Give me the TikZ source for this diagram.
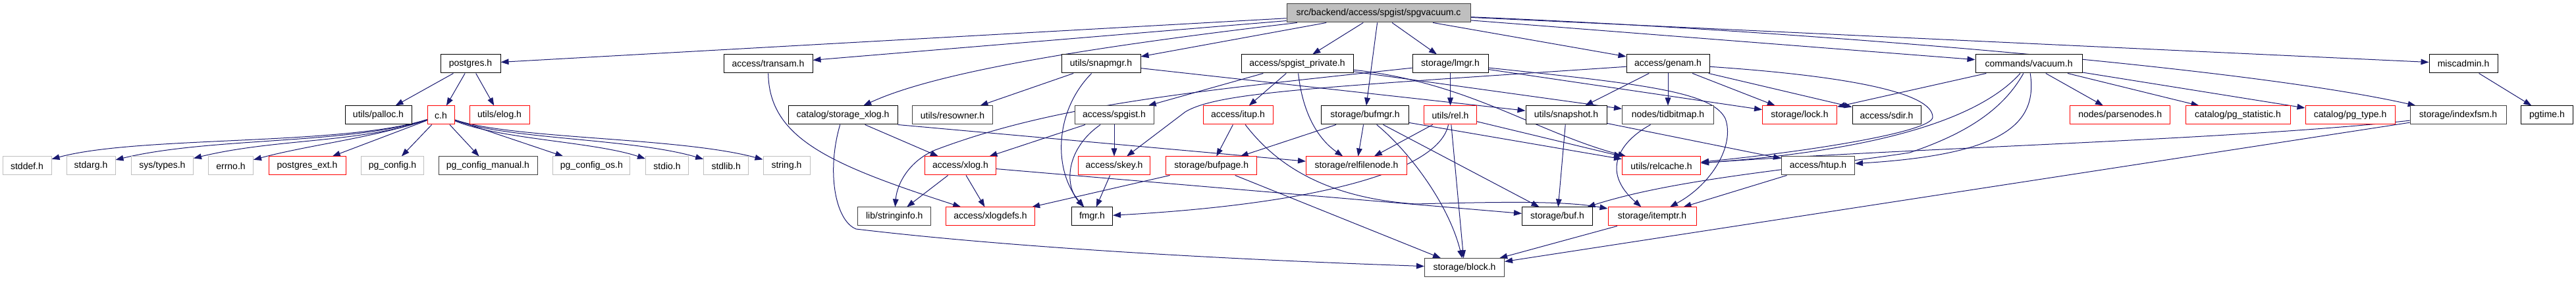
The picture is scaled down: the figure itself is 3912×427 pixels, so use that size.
\documentclass[tikz,border=0pt]{standalone}
\usepackage{fontspec}
\setmainfont{Liberation Sans}
\usetikzlibrary{arrows.meta,calc,backgrounds}
\definecolor{edgec}{HTML}{191970}
\definecolor{dkgray}{HTML}{404040}
\definecolor{ltgray}{HTML}{BFBFBF}
\definecolor{rootfill}{HTML}{BFBFBF}
\definecolor{redb}{HTML}{FF0000}
\tikzset{
  base/.style={draw, rectangle, inner sep=0pt, minimum height=21pt, fill=white,
    font=\fontsize{10.5}{12}\selectfont, line width=0.75pt},
  wd/.style={minimum width=#1*0.75pt},
  bx/.style={base, draw=black},
  dg/.style={base, draw=dkgray},
  rd/.style={base, draw=redb},
  lg/.style={base, draw=ltgray},
  rootbox/.style={base, draw=dkgray, fill=rootfill},
  e/.style={draw=edgec, line width=0.75pt, -{Triangle[length=9pt,width=6.5pt]}}
}
\begin{document}
\begin{tikzpicture}[x=0.75pt,y=-0.75pt]
\useasboundingbox (0,0) rectangle (3912,427);
% row 1
\node[rootbox, wd=279] (root) at (2093.5,20) {src/backend/access/spgist/spgvacuum.c};
% row 2
\node[bx, wd=91]  (postgres)  at (714.5,97)  {postgres.h};
\node[bx, wd=135] (transam)   at (1166.5,97) {access/transam.h};
\node[bx, wd=120] (snapmgr)   at (1672,97)   {utils/snapmgr.h};
\node[bx, wd=170] (spgpriv)   at (1970,97)   {access/spgist\_private.h};
\node[bx, wd=115] (lmgr)      at (2202.5,97) {storage/lmgr.h};
\node[bx, wd=126] (genam)     at (2533,97)   {access/genam.h};
\node[bx, wd=162] (vacuum)    at (3081,97)   {commands/vacuum.h};
\node[bx, wd=104] (miscadmin) at (3741,97)   {miscadmin.h};
% row 3
\node[bx, wd=101] (palloc)    at (574.5,175)  {utils/palloc.h};
\node[rd, wd=41]  (ch)        at (669.5,175)  {c.h};
\node[rd, wd=91]  (elog)      at (758.5,175)  {utils/elog.h};
\node[bx, wd=166] (sxlog)     at (1280,175)   {catalog/storage\_xlog.h};
\node[dg, wd=122] (resowner)  at (1446.5,175) {utils/resowner.h};
\node[dg, wd=120] (spgist)    at (1692,175)   {access/spgist.h};
\node[rd, wd=106] (itup)      at (1880,175)   {access/itup.h};
\node[bx, wd=133] (bufmgr)    at (2073,175)   {storage/bufmgr.h};
\node[rd, wd=80]  (rel)       at (2202.5,175) {utils/rel.h};
\node[bx, wd=123] (snapshot)  at (2378.5,175) {utils/snapshot.h};
\node[dg, wd=139] (tidbitmap) at (2533,175)   {nodes/tidbitmap.h};
\node[rd, wd=113] (lock)      at (2733,175)   {storage/lock.h};
\node[bx, wd=104] (sdir)      at (2865,175)   {access/sdir.h};
\node[rd, wd=152] (parsenodes) at (3219.7,175) {nodes/parsenodes.h};
\node[rd, wd=159] (pgstat)    at (3398.5,175) {catalog/pg\_statistic.h};
\node[rd, wd=136] (pgtype)    at (3569,175)   {catalog/pg\_type.h};
\node[dg, wd=146] (indexfsm)  at (3733,175)   {storage/indexfsm.h};
\node[bx, wd=79]  (pgtime)    at (3868,175)   {pgtime.h};
% row 4
\node[lg, wd=74]  (stddef)    at (41,252)     {stddef.h};
\node[lg, wd=74]  (stdarg)    at (138,252)    {stdarg.h};
\node[lg, wd=94]  (systypes)  at (246.5,252)  {sys/types.h};
\node[lg, wd=68]  (errno)     at (350.5,252)  {errno.h};
\node[rd, wd=117] (pgext)     at (466.5,252)  {postgres\_ext.h};
\node[lg, wd=95]  (pgconfig)  at (596,252)    {pg\_config.h};
\node[dg, wd=150] (pgmanual)  at (741,252)    {pg\_config\_manual.h};
\node[lg, wd=117] (pgos)      at (898.4,252)  {pg\_config\_os.h};
\node[lg, wd=65]  (stdio)     at (1013,252)   {stdio.h};
\node[lg, wd=68]  (stdlib)    at (1102.7,252) {stdlib.h};
\node[lg, wd=71]  (string)    at (1194.5,252) {string.h};
\node[rd, wd=108] (xlog)      at (1458.5,252) {access/xlog.h};
\node[rd, wd=109] (skey)      at (1692,252)   {access/skey.h};
\node[rd, wd=138] (bufpage)   at (1839.7,252) {storage/bufpage.h};
\node[rd, wd=153] (relfilenode) at (2060,252) {storage/relfilenode.h};
\node[rd, wd=119] (relcache)  at (2523,252)   {utils/relcache.h};
\node[dg, wd=111] (htup)      at (2761,252)   {access/htup.h};
% row 5
\node[dg, wd=111] (stringinfo) at (1358.3,329) {lib/stringinfo.h};
\node[rd, wd=135] (xlogdefs)  at (1504,329)   {access/xlogdefs.h};
\node[bx, wd=62]  (fmgr)      at (1658.5,329) {fmgr.h};
\node[bx, wd=107] (buf)       at (2365,329)   {storage/buf.h};
\node[rd, wd=134] (itemptr)   at (2509,329)   {storage/itemptr.h};
% row 6
\node[dg, wd=121] (block)     at (2224,406.7) {storage/block.h};

\begin{pgfonlayer}{background}
% root
\draw[e] (root) -- (postgres);
\draw[e] (root) -- (transam);
\draw[e] (root) .. controls (1650,72) and (1420,110) .. (sxlog);
\draw[e] (root) -- (snapmgr);
\draw[e] (root) -- (spgpriv);
\draw[e] (root) -- (bufmgr);
\draw[e] (root) -- (lmgr);
\draw[e] (root) -- (genam);
\draw[e] (root) -- (vacuum);
\draw[e] (root) -- (miscadmin);
\draw[e] (root) .. controls (2700,45) and (3400,100) .. (indexfsm);
% postgres.h
\draw[e] (postgres) -- (palloc);
\draw[e] (postgres) -- (ch);
\draw[e] (postgres) -- (elog);
% c.h
\draw[e] (ch) .. controls (520,222) and (210,206) .. (stddef);
\draw[e] (ch) .. controls (530,220) and (320,208) .. (stdarg);
\draw[e] (ch) .. controls (545,218) and (420,210) .. (systypes);
\draw[e] (ch) .. controls (565,210) and (470,220) .. (errno);
\draw[e] (ch) -- (pgext);
\draw[e] (ch) -- (pgconfig);
\draw[e] (ch) -- (pgmanual);
\draw[e] (ch) -- (pgos);
\draw[e] (ch) .. controls (760,212) and (900,215) .. (stdio);
\draw[e] (ch) .. controls (770,212) and (960,210) .. (stdlib);
\draw[e] (ch) .. controls (780,212) and (1030,208) .. (string);
% transam
\draw[e] (transam) .. controls (1168,210) and (1260,250) .. (xlogdefs);
% storage_xlog
\draw[e] (sxlog) -- (xlog);
\draw[e] (sxlog.south east) -- (relfilenode);
\draw[e] (sxlog) .. controls (1255,260) and (1268,335) .. (1300,348)
   .. controls (1500,372) and (1800,392) .. (block);
% snapmgr
\draw[e] (snapmgr) -- (resowner);
\draw[e] (snapmgr) .. controls (1600,170) and (1600,260) .. (fmgr);
\draw[e] (snapmgr) -- (snapshot);
% spgist_private
\draw[e] (spgpriv) -- (spgist);
\draw[e] (spgpriv) -- (itup);
\draw[e] (spgpriv) .. controls (1978,170) and (2000,210) .. (relfilenode);
\draw[e] (spgpriv) -- (tidbitmap);
\draw[e] (spgpriv) .. controls (2230,125) and (2330,200) .. (relcache);
% lmgr
\draw[e] (lmgr) -- (rel);
\draw[e] (lmgr) .. controls (1800,140) and (1600,160) .. (1420,228)
   .. controls (1380,245) and (1362,280) .. (stringinfo);
\draw[e] (lmgr) .. controls (2500,128) and (2600,140) .. (2620,180)
   .. controls (2635,220) and (2600,280) .. (itemptr);
\draw[e] (lmgr) -- (lock);
% genam
\draw[e] (genam) -- (snapshot);
\draw[e] (genam) -- (tidbitmap);
\draw[e] (genam) .. controls (2000,133) and (1850,140) .. (1800,170) -- (skey);
\draw[e] (genam) -- (lock);
\draw[e] (genam) -- (sdir);
\draw[e] (genam) .. controls (2800,115) and (2935,140) .. (2935,178)
   .. controls (2935,200) and (2750,230) .. (relcache);
% vacuum
\draw[e] (vacuum) -- (lock);
\draw[e] (vacuum) -- (parsenodes);
\draw[e] (vacuum) -- (pgstat);
\draw[e] (vacuum) -- (pgtype);
\draw[e] (vacuum) .. controls (3095,190) and (3040,235) .. (htup);
\draw[e] (vacuum) .. controls (3020,165) and (2900,225) .. (relcache);
\draw[e] (vacuum) .. controls (3040,170) and (2980,205) .. (2900,232)
   .. controls (2750,255) and (2550,270) .. (buf);
% indexfsm
\draw[e] (indexfsm) .. controls (3400,212) and (2900,225) .. (relcache);
\draw[e] (indexfsm) -- (block);
% miscadmin
\draw[e] (miscadmin) -- (pgtime);
% snapshot
\draw[e] (snapshot) -- (buf);
\draw[e] (snapshot) -- (htup);
% tidbitmap
\draw[e] (tidbitmap) .. controls (2460,215) and (2430,260) .. (itemptr);
% bufmgr
\draw[e] (bufmgr) -- (bufpage);
\draw[e] (bufmgr) -- (relfilenode);
\draw[e] (bufmgr) .. controls (2140,230) and (2200,310) .. (block);
\draw[e] (bufmgr) -- (buf);
\draw[e] (bufmgr) -- (relcache);
% rel
\draw[e] (rel) -- (relfilenode);
\draw[e] (rel) .. controls (2185,260) and (2000,310) .. (fmgr);
\draw[e] (rel) -- (block);
\draw[e] (rel) -- (relcache);
% spgist
\draw[e] (spgist) -- (xlog);
\draw[e] (spgist) -- (skey);
\draw[e] (spgist) .. controls (1620,225) and (1615,280) .. (fmgr);
% itup
\draw[e] (itup) -- (bufpage);
\draw[e] (itup) .. controls (1930,240) and (2000,300) .. (2150,310)
   .. controls (2300,306) and (2380,306) .. (itemptr);
% xlog
\draw[e] (xlog) -- (stringinfo);
\draw[e] (xlog) -- (xlogdefs);
\draw[e] (xlog) -- (buf);
% others
\draw[e] (skey) -- (fmgr);
\draw[e] (bufpage) -- (xlogdefs);
\draw[e] (bufpage) -- (block);
\draw[e] (itemptr) -- (block);
\draw[e] (htup) -- (itemptr);
\end{pgfonlayer}
\end{tikzpicture}
\end{document}
